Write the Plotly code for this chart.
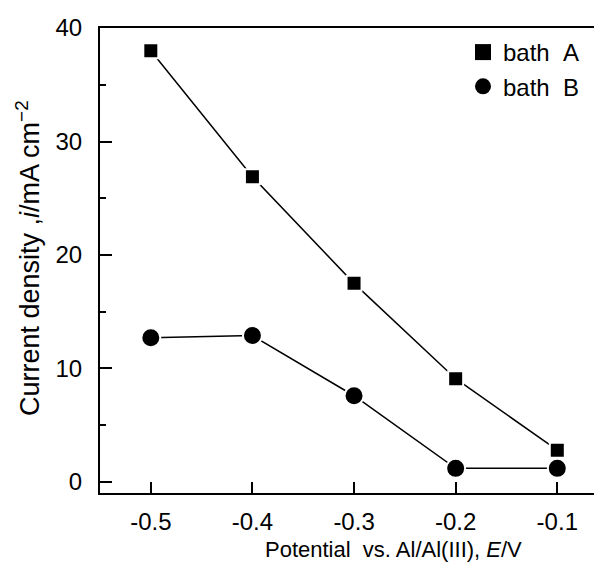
import plotly.graph_objects as go

potential = [-0.5, -0.4, -0.3, -0.2, -0.1]
bath_a = [38.0, 26.9, 17.5, 9.1, 2.8]
bath_b = [12.7, 12.9, 7.6, 1.2, 1.2]
x_ticks = [-0.5, -0.4, -0.3, -0.2, -0.1]
x_tick_labels = ["-0.5", "-0.4", "-0.3", "-0.2", "-0.1"]
y_ticks = [0, 10, 20, 30, 40]

# page body has an 8px margin; compensate so the plot lands where the reference has it
OFF = 8
W, H = 602 - OFF, 565 - OFF
PX0, PX1, PY0, PY1 = 100, 602, 28, 493  # plot area on screen
L, R, T, B = PX0 - OFF, 0, PY0 - OFF, (H + OFF) - PY1
font = "Liberation Sans, Arial, sans-serif"


def px_x(sx):
    return (sx - PX0) / (PX1 - PX0)


def px_y(sy):
    return (PY1 - sy) / (PY1 - PY0)


fig = go.Figure()
fig.add_trace(go.Scatter(
    x=potential, y=bath_a, mode="lines+markers", name="bath A", showlegend=False,
    line=dict(color="black", width=1.5),
    marker=dict(symbol="square", size=15, color="black", line=dict(color="white", width=2)),
))
fig.add_trace(go.Scatter(
    x=potential, y=bath_b, mode="lines+markers", name="bath B", showlegend=False,
    line=dict(color="black", width=1.5),
    marker=dict(symbol="circle", size=19, color="black", line=dict(color="white", width=2)),
))
# legend entries (markers only, as in the reference)
fig.add_trace(go.Scatter(
    x=[None], y=[None], mode="markers", name="bath\u00a0\u00a0A",
    marker=dict(symbol="square", size=20, color="black"),
))
fig.add_trace(go.Scatter(
    x=[None], y=[None], mode="markers", name="bath\u00a0\u00a0B",
    marker=dict(symbol="circle", size=23, color="black"),
))

fig.update_layout(
    width=W, height=H,
    margin=dict(l=L, r=R, t=T, b=B, autoexpand=False),
    paper_bgcolor="white", plot_bgcolor="white",
    font=dict(family=font, size=20, color="black"),
    showlegend=True,
    legend=dict(x=px_x(463), y=px_y(30), xanchor="left", yanchor="top",
                bgcolor="rgba(0,0,0,0)", font=dict(size=24),
                itemsizing="trace", tracegroupgap=0),
)
fig.update_xaxes(
    range=[-0.55, -0.056], tickvals=x_ticks, ticktext=x_tick_labels,
    ticks="inside", ticklen=11, tickwidth=1.5, tickcolor="black",
    showline=True, linecolor="black", linewidth=2, mirror=True,
    showgrid=False, zeroline=False, ticklabelstandoff=6,
    tickfont=dict(size=24), automargin=False,
)
fig.update_yaxes(
    range=[-0.97, 40], tickvals=y_ticks,
    ticks="inside", ticklen=12, tickwidth=1.5, tickcolor="black",
    minor=dict(dtick=5, tick0=0, ticks="inside", ticklen=6, tickwidth=1.5, tickcolor="black"),
    showline=True, linecolor="black", linewidth=2, mirror=False,
    showgrid=False, zeroline=False, ticklabelstandoff=11,
    tickfont=dict(size=24), automargin=False,
)

fig.add_annotation(
    text="Potential\u00a0\u00a0vs. Al/Al(III), <i>E</i>/V",
    xref="paper", yref="paper", x=px_x(393), y=px_y(549),
    xanchor="center", yanchor="middle", showarrow=False,
    font=dict(size=22),
)
fig.add_annotation(
    text="Current density ,<i>i</i>/mA cm<sup>\u22122</sup>",
    xref="paper", yref="paper", x=px_x(28), y=px_y(258),
    xanchor="center", yanchor="middle", textangle=-90, showarrow=False,
    font=dict(size=27),
)

fig.write_html("out.html")
